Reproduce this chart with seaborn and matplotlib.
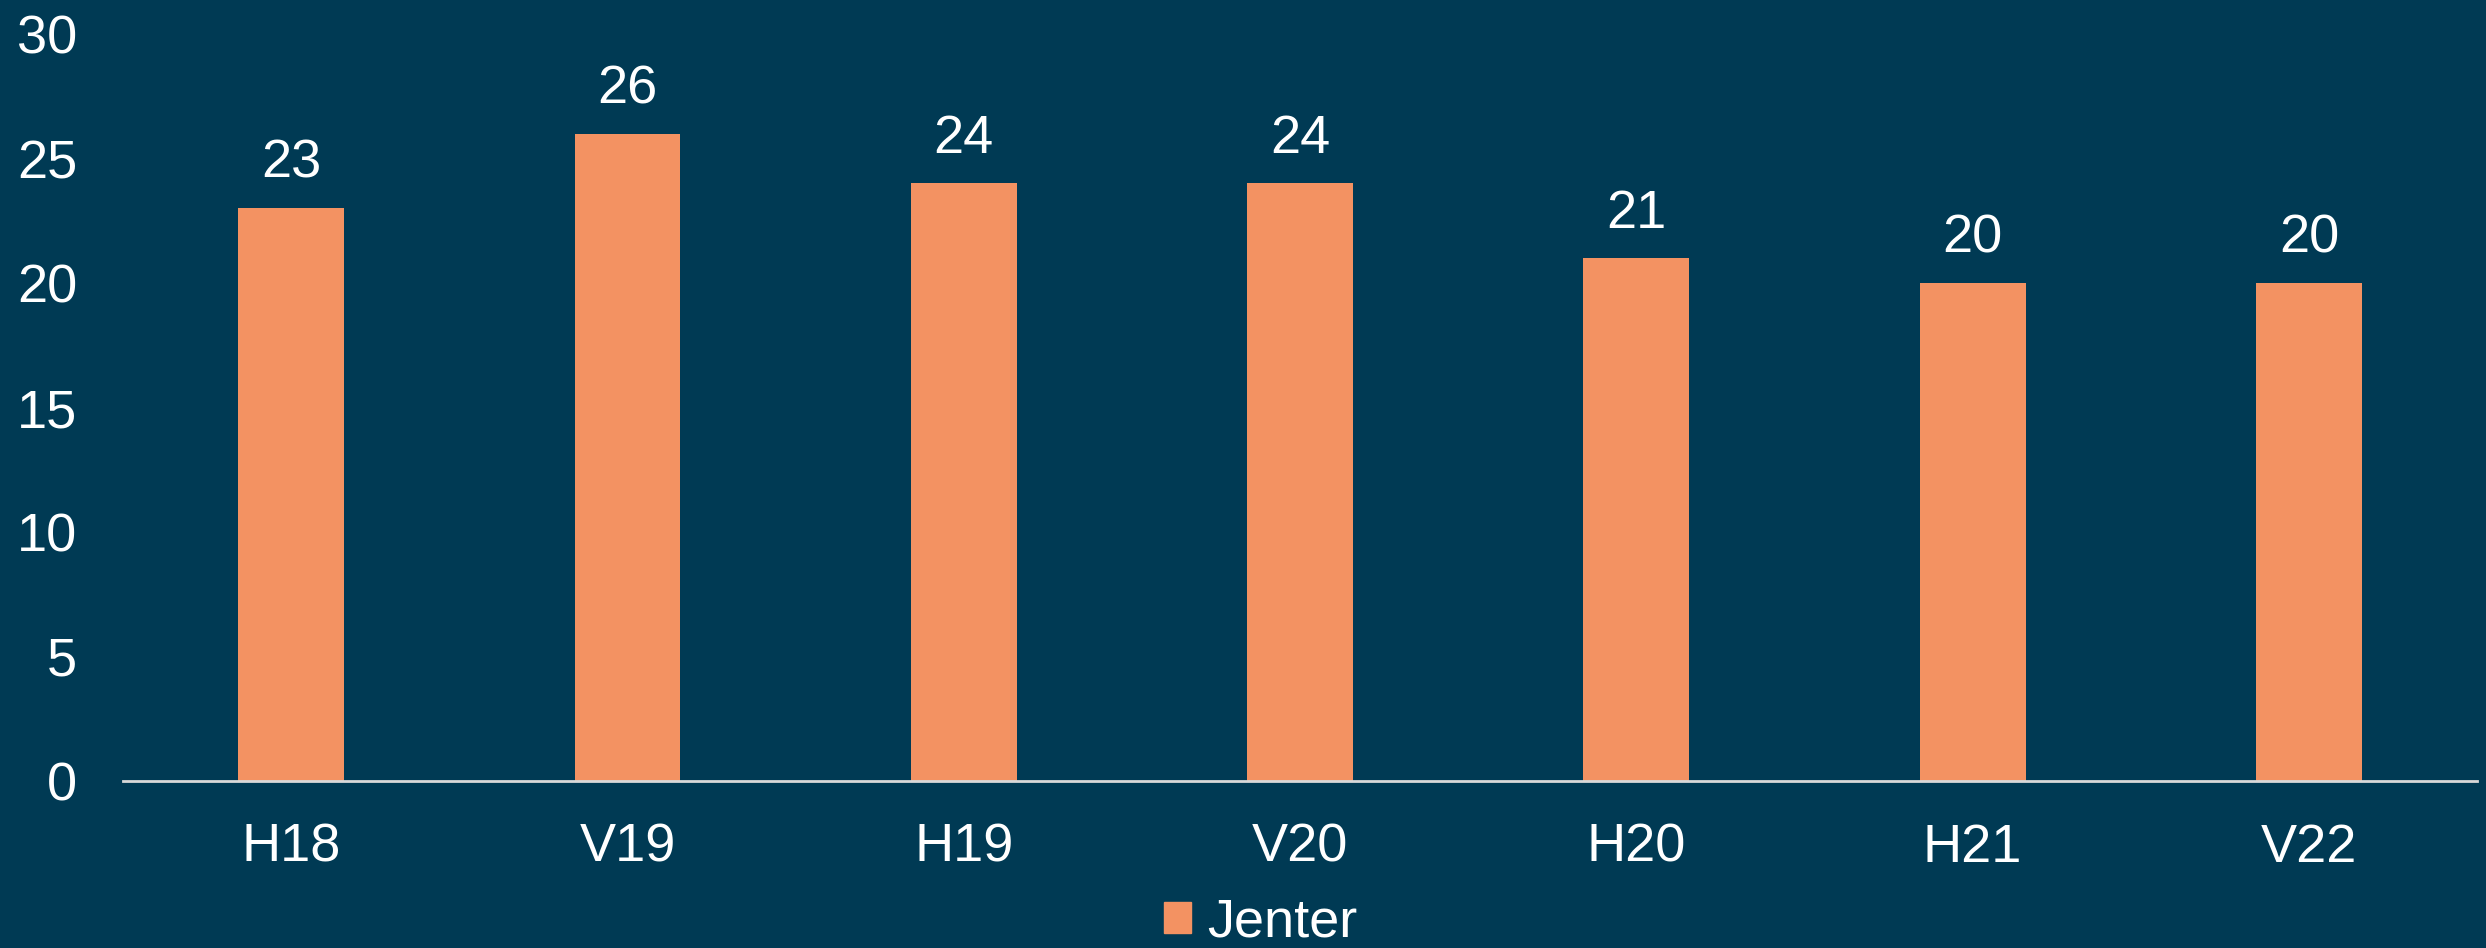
import matplotlib
matplotlib.use("Agg")
import matplotlib.pyplot as plt
import seaborn as sns
import pandas as pd
from matplotlib.patches import Patch

categories = ["H18", "V19", "H19", "V20", "H20", "H21", "V22"]
values = [23, 26, 24, 24, 21, 20, 20]
series_name = "Jenter"

BG = "#003A54"
BAR = "#F39262"

sns.set_theme(style="white")
plt.rcParams['font.family'] = ['Liberation Sans', 'DejaVu Sans']

df = pd.DataFrame({"cat": categories, "val": values, "series": series_name})

fig = plt.figure(figsize=(24.86, 9.48), dpi=100, facecolor=BG)
ax = fig.add_axes([0.0495, 0.1762, 0.9469, 0.7878])
ax.set_facecolor(BG)

sns.barplot(data=df, x="cat", y="val", hue="series", palette=[BAR],
            width=0.315, ax=ax, legend=False, saturation=1,
            edgecolor=BAR, linewidth=0)

ax.set_xlim(-0.5, 6.5)
ax.set_ylim(0, 30)
ax.set_yticks(range(0, 31, 5))
ax.set_xlabel("")
ax.set_ylabel("")

for s in ["top", "right", "left"]:
    ax.spines[s].set_visible(False)
ax.spines["bottom"].set_color("#D9D9D9")
ax.spines["bottom"].set_linewidth(2)

ax.tick_params(axis="y", colors="white", labelsize=39, length=0, pad=33)
ax.tick_params(axis="x", colors="white", labelsize=39, length=0, pad=30)

for c in ax.containers:
    ax.bar_label(c, labels=[str(v) for v in values], color="white",
                 fontsize=39, padding=14)

handles = [Patch(facecolor=BAR, edgecolor=BAR, label=series_name)]
fig.legend(handles=handles, loc="center", bbox_to_anchor=(0.507, 0.027),
           frameon=False, fontsize=39, labelcolor="white",
           handlelength=0.5, handleheight=0.5, handletextpad=0.3,
           borderpad=0.1)

fig.savefig("out.png", dpi=100, facecolor=BG)
